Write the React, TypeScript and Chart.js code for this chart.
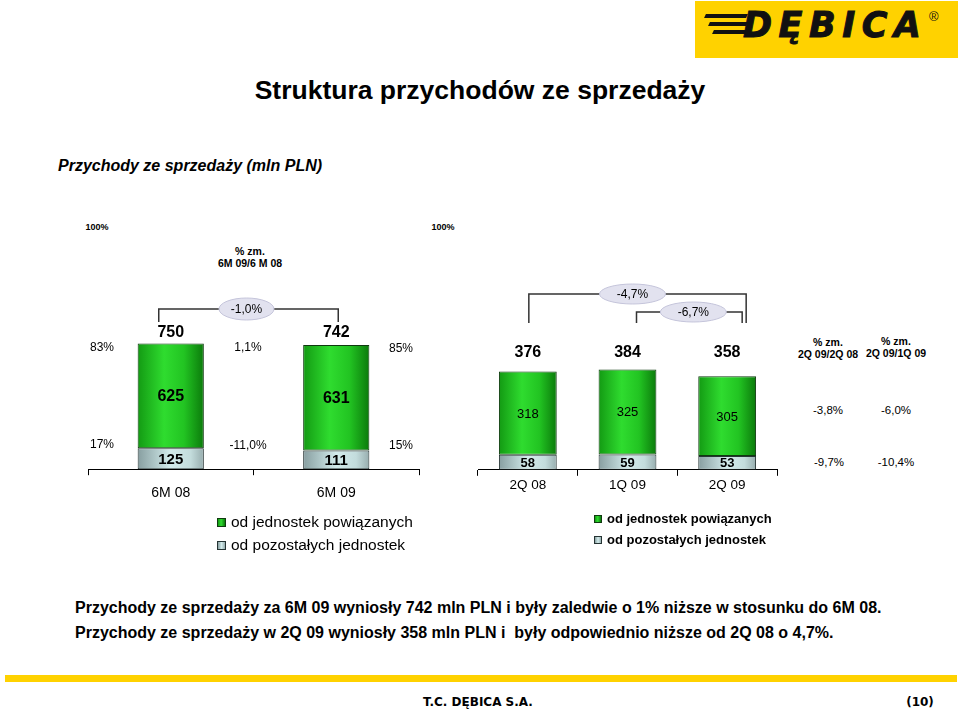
import React, { useEffect, useRef } from "react";
import { Chart, registerables } from "chart.js";

Chart.register(...registerables);

// ---------- data ----------
const halfCategories = ["6M 08", "6M 09"];
const halfRelated = [625, 631];
const halfOther = [125, 111];
const halfRelatedShare = ["83%", "85%"];
const halfOtherShare = ["17%", "15%"];
const halfChangeRelated = "1,1%";
const halfChangeOther = "-11,0%";
const halfChangeTotal = "-1,0%";

const qCategories = ["2Q 08", "1Q 09", "2Q 09"];
const qRelated = [318, 325, 305];
const qOther = [58, 59, 53];
const qChangeYoYTotal = "-4,7%";
const qChangeQoQTotal = "-6,7%";
const qChangeHeaders = ["2Q 09/2Q 08", "2Q 09/1Q 09"];
const qChangeRelated = ["-3,8%", "-6,0%"];
const qChangeOther = ["-9,7%", "-10,4%"];

const legendLabels = ["od jednostek powiązanych", "od pozostałych jednostek"];

const FONT = '"Liberation Sans", Arial, Helvetica, sans-serif';

const GREEN_STOPS: [number, string][] = [
  [0, "#139a13"],
  [0.4, "#2fdc2f"],
  [0.7, "#22c422"],
  [1, "#0b7a0b"],
];
const GRAY_STOPS: [number, string][] = [
  [0, "#879ea0"],
  [0.5, "#d3ecec"],
  [0.8, "#c3dcdc"],
  [1, "#97adae"],
];

function gradientFill(stops: [number, string][], barPct: number) {
  return (c: any) => {
    const chart = c.chart;
    const xs = chart.scales && chart.scales.x;
    if (c.type !== "data" || !xs || !chart.chartArea) return stops[1][1];
    const n = chart.data.labels.length;
    const w = (xs.width / n) * barPct;
    const cx = xs.getPixelForValue(c.dataIndex);
    const g = chart.ctx.createLinearGradient(cx - w / 2, 0, cx + w / 2, 0);
    stops.forEach(([o, col]) => g.addColorStop(o, col));
    return g;
  };
}

type Bracket = {
  from: number;
  to: number;
  dxFrom: number;
  dxTo: number;
  y: number;
  yEnd: number;
  label: string;
  labelDx: number;
  rx: number;
  ry: number;
};

type LabelCfg = {
  totalY: number;
  totalFont: string;
  relatedFont: string;
  otherFont: string;
  brackets: Bracket[];
};

function labelsPlugin(cfg: LabelCfg) {
  return {
    id: "slideLabels",
    afterDatasetsDraw(chart: any) {
      const ctx = chart.ctx;
      const ds = chart.data.datasets;
      const mBottom = chart.getDatasetMeta(0);
      const mTop = chart.getDatasetMeta(1);
      ctx.save();
      ctx.textAlign = "center";
      ctx.textBaseline = "middle";
      ctx.fillStyle = "#000";
      mBottom.data.forEach((bot: any, i: number) => {
        const top = mTop.data[i];
        ctx.font = cfg.otherFont;
        ctx.fillText(String(ds[0].data[i]), bot.x, (bot.y + bot.base) / 2 + 1);
        ctx.font = cfg.relatedFont;
        ctx.fillText(String(ds[1].data[i]), top.x, (top.y + top.base) / 2 + 1);
        ctx.font = cfg.totalFont;
        ctx.fillText(String(ds[0].data[i] + ds[1].data[i]), top.x, cfg.totalY);
      });
      const xs = chart.scales.x;
      cfg.brackets.forEach((b) => {
        const x1 = xs.getPixelForValue(b.from) + b.dxFrom;
        const x2 = xs.getPixelForValue(b.to) + b.dxTo;
        ctx.strokeStyle = "#333";
        ctx.lineWidth = 1.5;
        ctx.beginPath();
        ctx.moveTo(x1, b.yEnd);
        ctx.lineTo(x1, b.y);
        ctx.lineTo(x2, b.y);
        ctx.lineTo(x2, b.yEnd);
        ctx.stroke();
        const cx = (x1 + x2) / 2 + b.labelDx;
        ctx.beginPath();
        ctx.ellipse(cx, b.y, b.rx, b.ry, 0, 0, Math.PI * 2);
        ctx.fillStyle = "#e2e2ef";
        ctx.fill();
        ctx.strokeStyle = "#c4c4da";
        ctx.lineWidth = 1;
        ctx.stroke();
        ctx.fillStyle = "#000";
        ctx.font = `12px ${FONT}`;
        ctx.fillText(b.label, cx, b.y + 1);
      });
      ctx.restore();
    },
  };
}

type ChartProps = {
  left: number;
  top: number;
  width: number;
  height: number;
  labels: string[];
  related: number[];
  other: number[];
  barPct: number;
  yMax: number;
  padLeft: number;
  padRight: number;
  tickFont: number;
  tickPadding: number;
  cfg: LabelCfg;
};

function StackChart(p: ChartProps) {
  const ref = useRef<HTMLCanvasElement | null>(null);
  useEffect(() => {
    if (!ref.current) return;
    const chart = new Chart(ref.current, {
      type: "bar",
      data: {
        labels: p.labels,
        datasets: [
          {
            label: legendLabels[1],
            data: p.other,
            backgroundColor: gradientFill(GRAY_STOPS, p.barPct),
            borderColor: "#263434",
            borderWidth: 1,
            borderSkipped: false,
            categoryPercentage: 1,
            barPercentage: p.barPct,
          },
          {
            label: legendLabels[0],
            data: p.related,
            backgroundColor: gradientFill(GREEN_STOPS, p.barPct),
            borderColor: "#0f3a0f",
            borderWidth: 1,
            borderSkipped: false,
            categoryPercentage: 1,
            barPercentage: p.barPct,
          },
        ],
      },
      options: {
        animation: false,
        responsive: false,
        maintainAspectRatio: false,
        layout: { padding: { left: p.padLeft, right: p.padRight, top: 0, bottom: 0 } },
        plugins: { legend: { display: false }, tooltip: { enabled: false } },
        scales: {
          x: {
            stacked: true,
            offset: true,
            grid: {
              display: true,
              offset: true,
              drawOnChartArea: false,
              drawTicks: true,
              tickLength: 6,
              color: "#000",
              lineWidth: 1,
            },
            border: { display: true, color: "#000", width: 1 },
            ticks: {
              color: "#000",
              padding: p.tickPadding,
              font: { family: FONT, size: p.tickFont },
            },
          },
          y: { stacked: true, display: false, min: 0, max: p.yMax },
        },
      },
      plugins: [labelsPlugin(p.cfg)],
    });
    return () => chart.destroy();
  }, []);
  return (
    <div style={{ position: "absolute", left: p.left, top: p.top, width: p.width, height: p.height }}>
      <canvas ref={ref} width={p.width} height={p.height} style={{ width: p.width, height: p.height }} />
    </div>
  );
}

type TxtProps = {
  x: number;
  y: number;
  size: number;
  bold?: boolean;
  italic?: boolean;
  align?: "center" | "left";
  family?: string;
  children: React.ReactNode;
};

function Txt({ x, y, size, bold, italic, align = "center", family, children }: TxtProps) {
  return (
    <div
      style={{
        position: "absolute",
        left: x,
        top: y,
        transform: align === "center" ? "translate(-50%,-50%)" : "translate(0,-50%)",
        fontSize: size,
        fontWeight: bold ? 700 : 400,
        fontStyle: italic ? "italic" : "normal",
        fontFamily: family || FONT,
        whiteSpace: "nowrap",
        lineHeight: 1.15,
        color: "#000",
        textAlign: "center",
      }}
    >
      {children}
    </div>
  );
}

function Swatch({ x, y, size, green }: { x: number; y: number; size: number; green: boolean }) {
  return (
    <div
      style={{
        position: "absolute",
        left: x,
        top: y - size / 2,
        width: size,
        height: size,
        boxSizing: "border-box",
        border: green ? "1px solid #0f3a0f" : "1px solid #263434",
        background: green
          ? "linear-gradient(90deg,#139a13,#2fdc2f 45%,#0b7a0b)"
          : "linear-gradient(90deg,#879ea0,#d3ecec 50%,#97adae)",
      }}
    />
  );
}

function Logo() {
  return (
    <div style={{ position: "absolute", left: 695, top: 1, width: 263, height: 57, background: "#ffd200", overflow: "hidden" }}>
      {[0, 1, 2].map((i) => (
        <div
          key={i}
          style={{
            position: "absolute",
            left: 10 + i * 4,
            top: 13 + i * 8,
            width: 42 - i * 4,
            height: 4,
            background: "#111",
            transform: "skewX(-25deg)",
          }}
        />
      ))}
      <div
        style={{
          position: "absolute",
          left: 48,
          top: 7,
          fontFamily: '"DejaVu Sans", sans-serif',
          fontWeight: 900,
          fontStyle: "italic",
          fontSize: 35,
          letterSpacing: 6.5,
          lineHeight: 1,
          color: "#111",
          WebkitTextStroke: "1px #111",
        }}
      >
        DĘBICA
      </div>
      <div style={{ position: "absolute", left: 234, top: 8, fontFamily: FONT, fontSize: 13, color: "#111" }}>®</div>
    </div>
  );
}

export default function App() {
  return (
    <div style={{ position: "absolute", left: 0, top: 0, width: 959, height: 713, background: "#fff", overflow: "hidden", fontFamily: FONT }}>
      <Logo />
      <Txt x={480} y={90} size={26.5} bold>
        Struktura przychodów ze sprzedaży
      </Txt>
      <Txt x={58} y={166} size={16} bold italic align="left">
        Przychody ze sprzedaży (mln PLN)
      </Txt>

      <Txt x={97} y={227} size={9} bold>100%</Txt>
      <Txt x={443} y={227} size={9} bold>100%</Txt>
      <Txt x={250} y={257} size={10.5} bold>
        % zm.
        <br />
        6M 09/6 M 08
      </Txt>

      <StackChart
        left={80}
        top={290}
        width={345}
        height={222}
        labels={halfCategories}
        related={halfRelated}
        other={halfOther}
        barPct={0.4}
        yMax={1070}
        padLeft={8}
        padRight={6}
        tickFont={14}
        tickPadding={10}
        cfg={{
          totalY: 43,
          totalFont: `bold 16px ${FONT}`,
          relatedFont: `bold 16px ${FONT}`,
          otherFont: `bold 15px ${FONT}`,
          brackets: [
            { from: 0, to: 1, dxFrom: -12, dxTo: 2, y: 19, yEnd: 32, label: halfChangeTotal, labelDx: -2, rx: 27.5, ry: 11 },
          ],
        }}
      />
      <Txt x={102} y={348} size={12}>{halfRelatedShare[0]}</Txt>
      <Txt x={102} y={445} size={12}>{halfOtherShare[0]}</Txt>
      <Txt x={248} y={348} size={12}>{halfChangeRelated}</Txt>
      <Txt x={248} y={446} size={12}>{halfChangeOther}</Txt>
      <Txt x={401} y={349} size={12}>{halfRelatedShare[1]}</Txt>
      <Txt x={401} y={446} size={12}>{halfOtherShare[1]}</Txt>

      <StackChart
        left={470}
        top={280}
        width={310}
        height={214}
        labels={qCategories}
        related={qRelated}
        other={qOther}
        barPct={0.58}
        yMax={726}
        padLeft={8}
        padRight={3}
        tickFont={13.5}
        tickPadding={1}
        cfg={{
          totalY: 73,
          totalFont: `bold 16px ${FONT}`,
          relatedFont: `13px ${FONT}`,
          otherFont: `bold 13px ${FONT}`,
          brackets: [
            { from: 0, to: 2, dxFrom: 1, dxTo: 19, y: 14, yEnd: 43, label: qChangeYoYTotal, labelDx: -5, rx: 33, ry: 10 },
            { from: 1, to: 2, dxFrom: 9, dxTo: 15, y: 32, yEnd: 43, label: qChangeQoQTotal, labelDx: 4, rx: 33, ry: 10 },
          ],
        }}
      />

      <Txt x={828} y={348} size={10.5} bold>
        % zm.
        <br />
        {qChangeHeaders[0]}
      </Txt>
      <Txt x={896} y={347} size={10.5} bold>
        % zm.
        <br />
        {qChangeHeaders[1]}
      </Txt>
      <Txt x={828} y={411} size={11.5}>{qChangeRelated[0]}</Txt>
      <Txt x={896} y={411} size={11.5}>{qChangeRelated[1]}</Txt>
      <Txt x={829} y={463} size={11.5}>{qChangeOther[0]}</Txt>
      <Txt x={896} y={463} size={11.5}>{qChangeOther[1]}</Txt>

      <Swatch x={217} y={522} size={9} green />
      <Swatch x={217} y={545} size={9} green={false} />
      <Txt x={231} y={522} size={15.5} align="left">{legendLabels[0]}</Txt>
      <Txt x={231} y={545} size={15.5} align="left">{legendLabels[1]}</Txt>

      <Swatch x={594} y={519} size={8} green />
      <Swatch x={594} y={540} size={8} green={false} />
      <Txt x={607} y={519} size={13} bold align="left">{legendLabels[0]}</Txt>
      <Txt x={607} y={540} size={13} bold align="left">{legendLabels[1]}</Txt>

      <Txt x={75} y={608} size={16} bold align="left">
        Przychody ze sprzedaży za 6M 09 wyniosły 742 mln PLN i były zaledwie o 1% niższe w stosunku do 6M 08.
      </Txt>
      <Txt x={75} y={633} size={16} bold align="left">
        Przychody ze sprzedaży w 2Q 09 wyniosły 358 mln PLN i&nbsp; były odpowiednio niższe od 2Q 08 o 4,7%.
      </Txt>

      <div style={{ position: "absolute", left: 5, top: 675, width: 952, height: 7, background: "#ffd200" }} />
      <Txt x={478} y={703} size={12} bold family='"DejaVu Sans", Verdana, sans-serif'>T.C. DĘBICA S.A.</Txt>
      <Txt x={920} y={703} size={12} bold family='"DejaVu Sans", Verdana, sans-serif'>(10)</Txt>
    </div>
  );
}
